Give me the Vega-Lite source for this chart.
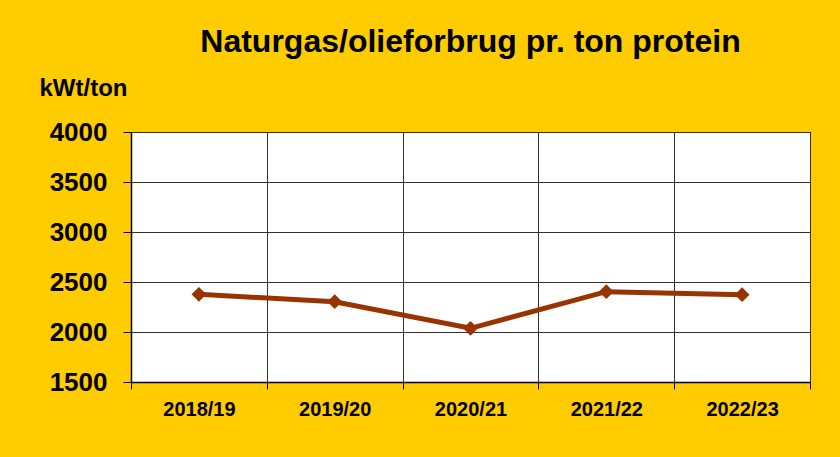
{
  "$schema": "https://vega.github.io/schema/vega-lite/v6.json",
  "width": 679,
  "height": 250,
  "autosize": {"type": "none"},
  "padding": {"left": 131, "top": 132, "right": 30, "bottom": 75},
  "background": "#FFCC00",
  "title": {
    "text": "Naturgas/olieforbrug pr. ton protein",
    "font": "Liberation Sans",
    "fontSize": 32,
    "fontWeight": "bold",
    "color": "#000000",
    "anchor": "middle",
    "frame": "group",
    "baseline": "alphabetic",
    "offset": -8
  },
  "config": {
    "view": {"fill": "#FFFFFF", "stroke": "#000000", "strokeWidth": 1}
  },
  "data": {
    "values": [
      {"year": "2018/19", "value": 2377},
      {"year": "2019/20", "value": 2303},
      {"year": "2020/21", "value": 2037},
      {"year": "2021/22", "value": 2403},
      {"year": "2022/23", "value": 2373}
    ]
  },
  "mark": {
    "type": "line",
    "color": "#993300",
    "strokeWidth": 5,
    "point": {"shape": "diamond", "size": 220, "filled": true, "color": "#993300"}
  },
  "encoding": {
    "x": {
      "field": "year",
      "type": "ordinal",
      "scale": {"type": "band", "paddingInner": 0, "paddingOuter": 0},
      "axis": {
        "title": null,
        "labelAngle": 0,
        "labelFont": "Liberation Sans",
        "labelFontSize": 20,
        "labelFontWeight": "bold",
        "labelColor": "#000000",
        "labelPadding": 10,
        "bandPosition": 0,
        "grid": true,
        "gridColor": "#303030",
        "gridOpacity": 1,
        "ticks": true,
        "tickBand": "extent",
        "tickSize": 7,
        "tickColor": "#000000",
        "domainColor": "#000000",
        "domainWidth": 1.5
      }
    },
    "y": {
      "field": "value",
      "type": "quantitative",
      "scale": {"domain": [1500, 4000], "nice": false, "zero": false},
      "axis": {
        "values": [1500, 2000, 2500, 3000, 3500, 4000],
        "format": "d",
        "title": "kWt/ton",
        "titleAngle": 0,
        "titleAlign": "center",
        "titleBaseline": "middle",
        "titleX": -48,
        "titleY": -44,
        "titleFont": "Liberation Sans",
        "titleFontSize": 24,
        "titleFontWeight": "bold",
        "titleColor": "#000000",
        "labelFont": "Liberation Sans",
        "labelFontSize": 26,
        "labelFontWeight": "bold",
        "labelColor": "#000000",
        "labelPadding": 16,
        "grid": true,
        "gridColor": "#303030",
        "gridOpacity": 1,
        "tickSize": 8,
        "tickColor": "#000000",
        "domainColor": "#000000",
        "domainWidth": 1.5
      }
    }
  }
}
